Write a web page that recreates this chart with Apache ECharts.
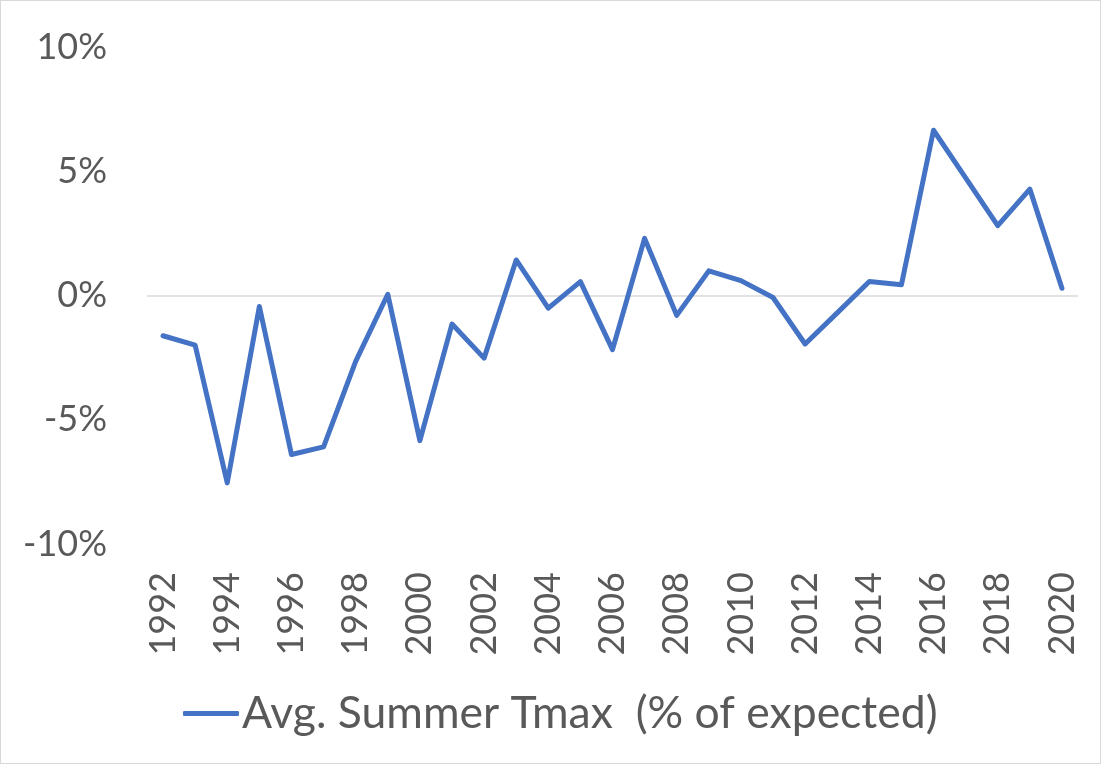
<!DOCTYPE html>
<html>
<head>
<meta charset="utf-8">
<script src="https://cdn.jsdelivr.net/npm/echarts@6/dist/echarts.min.js"></script>
<style>
  html, body { margin: 0; padding: 0; background: #fff; }
  #chart { width: 1099px; height: 762px; border: 1px solid #d9d9d9; }
</style>
</head>
<body>
<div id="chart"></div>
<script>
var years = ['1992','1993','1994','1995','1996','1997','1998','1999','2000','2001',
  '2002','2003','2004','2005','2006','2007','2008','2009','2010','2011',
  '2012','2013','2014','2015','2016','2017','2018','2019','2020'];
var tmax = [-1.62, -2.0, -7.54, -0.44, -6.4, -6.09, -2.65, 0.05, -5.84, -1.15,
  -2.52, 1.43, -0.51, 0.56, -2.18, 2.3, -0.8, 0.99, 0.6, -0.08,
  -1.95, -0.7, 0.56, 0.43, 6.65, 4.73, 2.81, 4.28, 0.29];
var seriesName = 'Avg. Summer Tmax  (% of expected)';

var chart = echarts.init(document.getElementById('chart'));
var font = 'Lato, "Open Sans", sans-serif';

chart.setOption({
  animation: false,
  grid: { left: 146, right: 22, top: 46, bottom: 219 },
  legend: {
    data: [{ name: seriesName, icon: 'roundRect' }],
    left: 177,
    top: 685,
    itemWidth: 56,
    itemHeight: 5,
    itemGap: 8,
    itemStyle: { color: '#4472C4' },
    textStyle: { color: '#595959', fontSize: 44.5, fontFamily: font, padding: [0, 0, 0, -2] }
  },
  xAxis: {
    type: 'category',
    data: years,
    boundaryGap: true,
    axisLine: { show: false },
    axisTick: { show: false },
    axisLabel: {
      interval: 1,
      rotate: 90,
      margin: 28,
      color: '#595959',
      fontSize: 36,
      fontFamily: font
    }
  },
  yAxis: {
    type: 'value',
    min: -10,
    max: 10,
    interval: 5,
    axisLine: { show: false },
    axisTick: { show: false },
    splitLine: { show: false },
    axisLabel: {
      margin: 40,
      color: '#595959',
      fontSize: 36,
      fontFamily: font,
      formatter: function (v) { return v + '%'; }
    }
  },
  series: [{
    name: seriesName,
    type: 'line',
    data: tmax,
    symbol: 'none',
    lineStyle: { color: '#4472C4', width: 5, cap: 'round', join: 'round' },
    itemStyle: { color: '#4472C4' },
    markLine: {
      silent: true,
      symbol: 'none',
      label: { show: false },
      lineStyle: { color: '#d9d9d9', width: 1.5, type: 'solid' },
      data: [{ yAxis: 0 }],
      z: 1
    },
    z: 3
  }]
});
</script>
</body>
</html>
